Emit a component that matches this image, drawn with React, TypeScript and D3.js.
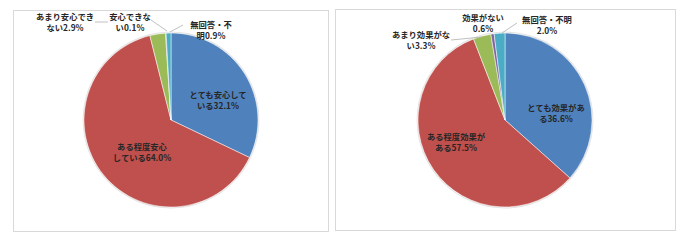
import React from 'react';
import * as d3 from 'd3';

// ---- data ----
const leftCategories = ['とても安心している', 'ある程度安心している', 'あまり安心できない', '安心できない', '無回答・不明'];
const leftValues = [32.1, 64.0, 2.9, 0.1, 0.9];
const leftLabelLines = [['とても安心して', 'いる'], ['ある程度安心', 'している'], ['あまり安心でき', 'ない'], ['安心できな', 'い'], ['無回答・不', '明']];

const rightCategories = ['とても効果がある', 'ある程度効果がある', 'あまり効果がない', '効果がない', '無回答・不明'];
const rightValues = [36.6, 57.5, 3.3, 0.6, 2.0];
const rightLabelLines = [['とても効果があ', 'る'], ['ある程度効果が', 'ある'], ['あまり効果がな', 'い'], ['効果がない', ''], ['無回答・不明', '']];

const sliceColors = ['#4f81bd', '#c0504d', '#9bbb59', '#8064a2', '#4bacc6'];

// ---- layout (label positions, relative to pie centre) ----
const leftLabelPos = [[47, -25], [-29, 27], [-106, -103], [-41, -103], [40, -95]];
const leftLeaders = [[[-76, -98], [-63, -98]], [[-20, -100], [-4, -89]], [[12, -95], [-1, -88]]];
const rightLabelPos = [[51, -12], [-49, 17], [-84, -85], [-22, -102], [42, -100]];
const rightLeaders = [[[-54, -80], [-23, -83]], [[12, -97], [-3, -87]]];

type PieProps = {
  cx: number; cy: number; r: number;
  categories: string[]; values: number[]; lines: string[][];
  pos: number[][]; leaders: number[][][];
};

function Pie({ cx, cy, r, categories, values, lines, pos, leaders }: PieProps) {
  const pie = d3.pie<number>().sort(null).value((d) => d)(values);
  const arc = d3.arc<d3.PieArcDatum<number>>().innerRadius(0).outerRadius(r);
  const line = d3.line();
  return (
    <g transform={`translate(${cx},${cy})`}>
      <circle r={r + 0.8} fill="none" stroke="#e4e4e4" strokeWidth={1.2} />
      {pie.map((p, i) => (
        <path key={categories[i]} d={arc(p) || ''} fill={sliceColors[i]} stroke="#ffffff" strokeWidth={0.5} />
      ))}
      {leaders.map((l, i) => (
        <path key={'l' + i} d={line(l as [number, number][]) || ''} fill="none" stroke="#b0b0b0" strokeWidth={0.8} />
      ))}
      {lines.map((ls, i) => {
        const t = [ls[0], ls[1] + values[i].toFixed(1) + '%'];
        return (
          <text key={'t' + i} x={pos[i][0]} y={pos[i][1]} textAnchor="middle"
            fontFamily="'Noto Sans CJK JP', sans-serif" fontSize={8.3} fontWeight={700} fill="#262626">
            {t.map((s, j) => (
              <tspan key={j} x={pos[i][0]} dy={j === 0 ? '0.35em' : 11.5}>{s}</tspan>
            ))}
          </text>
        );
      })}
    </g>
  );
}

export default function App() {
  return (
    <svg width={690} height={241} style={{ position: 'absolute', left: 0, top: 0, background: '#fff' }}>
      <rect x={0} y={0} width={690} height={241} fill="#ffffff" />
      <rect x={13.5} y={10.5} width={315} height={221} fill="#ffffff" stroke="#d9d9d9" strokeWidth={1} />
      <rect x={335.5} y={9.5} width={340} height={221} fill="#ffffff" stroke="#d9d9d9" strokeWidth={1} />
      <Pie cx={171} cy={120} r={87} categories={leftCategories} values={leftValues}
        lines={leftLabelLines} pos={leftLabelPos} leaders={leftLeaders} />
      <Pie cx={505} cy={120} r={87} categories={rightCategories} values={rightValues}
        lines={rightLabelLines} pos={rightLabelPos} leaders={rightLeaders} />
    </svg>
  );
}
